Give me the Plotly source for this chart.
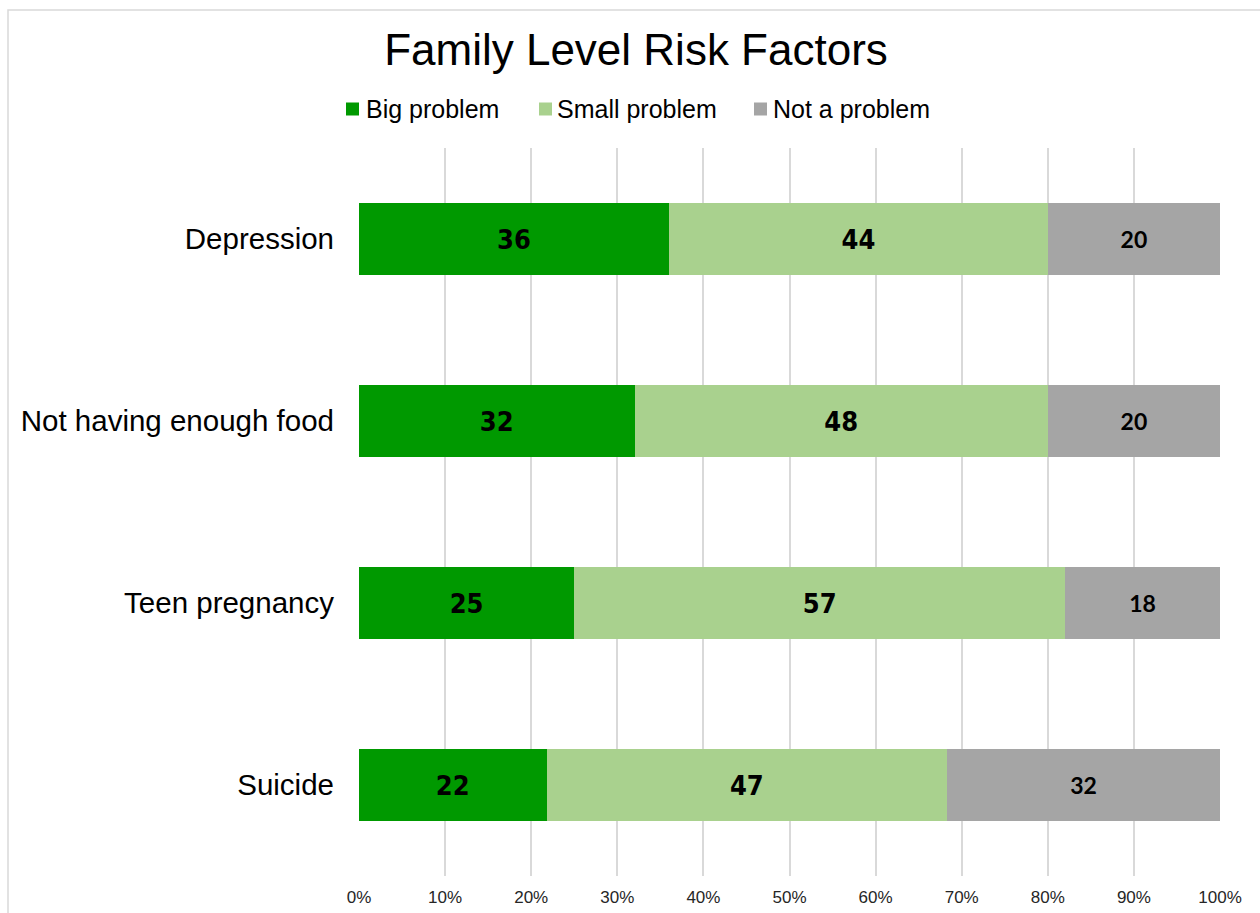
import plotly.graph_objects as go

# Survey results: share of respondents rating each family-level risk factor
categories = ["Depression", "Not having enough food", "Teen pregnancy", "Suicide"]
big_problem = [36, 32, 25, 22]
small_problem = [44, 48, 57, 47]
not_a_problem = [20, 20, 18, 32]
series_names = ["Big problem", "Small problem", "Not a problem"]
series_colors = ["#009900", "#a9d18e", "#a5a5a5"]
tick_vals = list(range(0, 101, 10))
tick_labels = [f"{v}%" for v in tick_vals]

W, H = 1260, 913
ML, MR, MT, MB = 359, 40, 148, 37
PW, PH = W - ML - MR, H - MT - MB


def px_x(px):
    return (px - ML) / PW


def px_y(py):
    return (H - MB - py) / PH


SANS = "Liberation Sans, Arial, sans-serif"
NARROW = "Liberation Sans Narrow, Arial Narrow, DejaVu Sans Condensed, sans-serif"
HUMANIST = "Lato, Open Sans, sans-serif"

label_fonts = [
    dict(family=NARROW, size=27, color="black"),
    dict(family=NARROW, size=27, color="black"),
    dict(family=HUMANIST, size=23, color="black"),
]

fig = go.Figure()
for name, vals, color, tfont in zip(series_names,
                                    [big_problem, small_problem, not_a_problem],
                                    series_colors, label_fonts):
    fig.add_trace(go.Bar(
        name=name,
        y=categories,
        x=vals,
        orientation="h",
        marker=dict(color=color, line=dict(width=0)),
        text=[str(v) for v in vals],
        texttemplate="<b>%{text}</b>",
        textposition="inside",
        insidetextanchor="middle",
        textangle=0,
        textfont=tfont,
        hoverinfo="skip",
        showlegend=False,
    ))

fig.update_layout(
    width=W, height=H,
    margin=dict(l=ML, r=MR, t=MT, b=MB, pad=0, autoexpand=False),
    paper_bgcolor="white",
    plot_bgcolor="white",
    barmode="stack",
    barnorm="percent",
    bargap=0.604,
    title=dict(
        text="Family Level Risk Factors",
        font=dict(family=SANS, size=44, color="black"),
        x=636 / W, xanchor="center", xref="container",
        y=1 - 50 / H, yanchor="middle", yref="container",
    ),
    xaxis=dict(
        range=[0, 100],
        tickvals=tick_vals,
        ticktext=tick_labels,
        showgrid=True,
        gridcolor="#d9d9d9",
        gridwidth=1.5,
        zeroline=False,
        showline=False,
        ticks="",
        automargin=False,
        tickfont=dict(family=SANS, size=17, color="#262626"),
        ticklabelstandoff=9,
    ),
    yaxis=dict(
        categoryorder="array",
        categoryarray=categories[::-1],
        showgrid=False,
        zeroline=False,
        showline=False,
        ticks="",
        automargin=False,
        tickfont=dict(family=SANS, size=29.5, color="black"),
        ticklabelstandoff=24,
    ),
    uniformtext=dict(mode=False),
)

# Chart frame
fig.add_shape(type="rect", xref="paper", yref="paper",
              x0=px_x(8), x1=px_x(W + 20), y0=px_y(H + 20), y1=px_y(10),
              line=dict(color="#d9d9d9", width=1.5), fillcolor="rgba(0,0,0,0)",
              layer="below")

# Legend row
legend_marker_x = [346, 539, 754]
legend_text_x = [364, 555, 771]
legend_y = 109
for name, color, mx, tx in zip(series_names, series_colors, legend_marker_x, legend_text_x):
    fig.add_shape(type="rect", xref="paper", yref="paper",
                  x0=px_x(mx), x1=px_x(mx + 13),
                  y0=px_y(legend_y + 6.5), y1=px_y(legend_y - 6.5),
                  line=dict(width=0), fillcolor=color)
    fig.add_annotation(xref="paper", yref="paper",
                       x=px_x(tx), y=px_y(legend_y),
                       xanchor="left", yanchor="middle",
                       text=name, showarrow=False,
                       font=dict(family=SANS, size=25, color="black"))

fig.write_html("out.html")
